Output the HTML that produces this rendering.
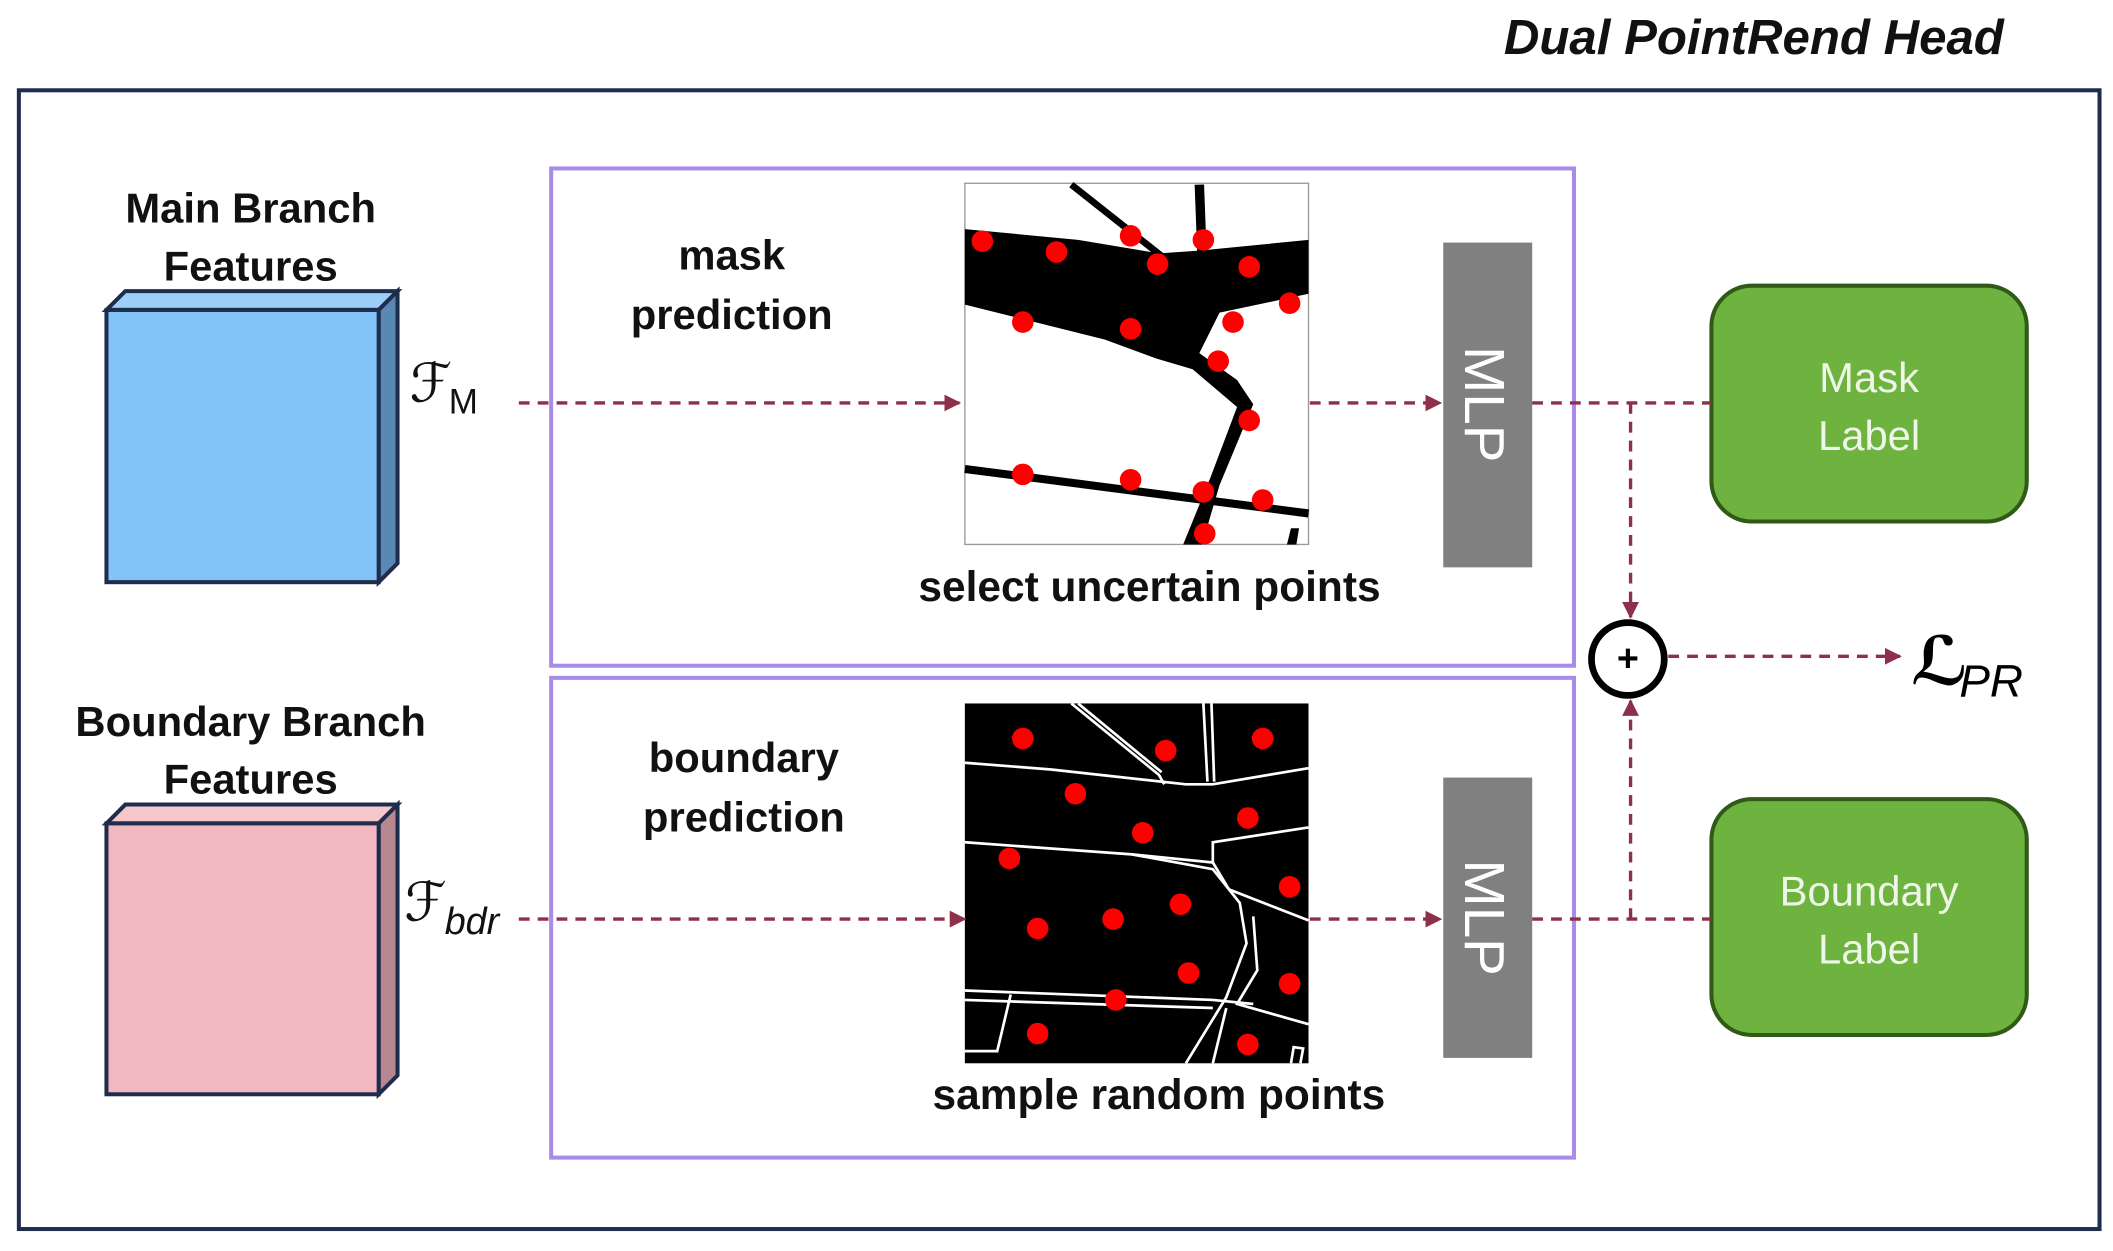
<!DOCTYPE html>
<html><head><meta charset="utf-8"><style>
html,body{margin:0;padding:0;background:#fff;}
svg{display:block;}
text{font-family:"Liberation Sans","DejaVu Sans",sans-serif;}
</style></head><body>
<svg width="2113" height="1251" viewBox="0 0 1568 928.3" preserveAspectRatio="none" xmlns="http://www.w3.org/2000/svg">
<defs>
<marker id="ah" viewBox="0 0 10 10" refX="9" refY="5" markerWidth="5" markerHeight="5" orient="auto"><path d="M0,0 L10,5 L0,10 z" fill="#8e2f4c"/></marker>
</defs>
<text x="1487" y="40" text-anchor="end" font-size="36.5" font-weight="bold" font-style="italic" fill="#111">Dual PointRend Head</text>
<rect x="14" y="67" width="1544" height="845" fill="none" stroke="#1f2d4d" stroke-width="3"/>

<text x="186" y="165" text-anchor="middle" font-size="31" font-weight="bold" fill="#111">Main Branch</text>
<text x="186" y="208" text-anchor="middle" font-size="31" font-weight="bold" fill="#111">Features</text>
<polygon points="79,230 93,216 295,216 281,230" fill="#9ccffa" stroke="#1f2d4d" stroke-width="3"/>
<polygon points="281,230 295,216 295,418 281,432" fill="#5a88b4" stroke="#1f2d4d" stroke-width="3"/>
<rect x="79" y="230" width="202" height="202" fill="#82c4f8" stroke="#1f2d4d" stroke-width="3"/>

<text x="186" y="546" text-anchor="middle" font-size="31" font-weight="bold" fill="#111">Boundary Branch</text>
<text x="186" y="589" text-anchor="middle" font-size="31" font-weight="bold" fill="#111">Features</text>
<polygon points="79,611 93,597 295,597 281,611" fill="#f6c8ce" stroke="#1f2d4d" stroke-width="3"/>
<polygon points="281,611 295,597 295,798 281,812" fill="#b88890" stroke="#1f2d4d" stroke-width="3"/>
<rect x="79" y="611" width="202" height="201" fill="#f2b8c0" stroke="#1f2d4d" stroke-width="3"/>

<text x="304" y="298" font-family="Liberation Serif,serif" font-style="italic" font-size="40" fill="#111">ℱ</text>
<text x="333" y="307" font-family="Liberation Serif,serif" font-size="26" fill="#111">M</text>
<text x="300" y="683" font-family="Liberation Serif,serif" font-style="italic" font-size="40" fill="#111">ℱ</text>
<text x="330" y="693" font-family="Liberation Serif,serif" font-style="italic" font-size="28" fill="#111">bdr</text>

<rect x="409" y="125" width="759" height="369" fill="none" stroke="#a98be8" stroke-width="3"/>
<rect x="409" y="503" width="759" height="356" fill="none" stroke="#a98be8" stroke-width="3"/>
<text x="543" y="200" text-anchor="middle" font-size="31" font-weight="bold" fill="#111">mask</text>
<text x="543" y="244" text-anchor="middle" font-size="31" font-weight="bold" fill="#111">prediction</text>
<text x="552" y="573" text-anchor="middle" font-size="31" font-weight="bold" fill="#111">boundary</text>
<text x="552" y="617" text-anchor="middle" font-size="31" font-weight="bold" fill="#111">prediction</text>
<text x="853" y="446" text-anchor="middle" font-size="31.5" font-weight="bold" fill="#111">select uncertain points</text>
<text x="860" y="823" text-anchor="middle" font-size="31.5" font-weight="bold" fill="#111">sample random points</text>

<g>
<rect x="716" y="136" width="255" height="268" fill="#fff" stroke="#999" stroke-width="1"/>
<polygon points="716,170 800,178 860,188 890,186 971,178 971,218 905,232 890,262 918,282 930,300 905,360 892,404 878,404 898,355 918,302 885,274 858,266 820,252 716,226" fill="#000"/>
<line x1="795" y1="137" x2="862" y2="190" stroke="#000" stroke-width="5"/>
<line x1="890" y1="137" x2="892" y2="190" stroke="#000" stroke-width="7"/>
<line x1="716" y1="348" x2="971" y2="381" stroke="#000" stroke-width="6"/>
<path d="M955,404 L958,392 L964,392 L962,404 z" fill="#000"/>
<g fill="#f00">
<circle cx="729" cy="179" r="8"/><circle cx="784" cy="187" r="8"/><circle cx="839" cy="175" r="8"/><circle cx="859" cy="196" r="8"/><circle cx="893" cy="178" r="8"/><circle cx="927" cy="198" r="8"/><circle cx="957" cy="225" r="8"/><circle cx="915" cy="239" r="8"/><circle cx="759" cy="239" r="8"/><circle cx="839" cy="244" r="8"/><circle cx="904" cy="268" r="8"/><circle cx="927" cy="312" r="8"/><circle cx="759" cy="352" r="8"/><circle cx="839" cy="356" r="8"/><circle cx="893" cy="365" r="8"/><circle cx="937" cy="371" r="8"/><circle cx="894" cy="396" r="8"/>
</g>
</g>

<g>
<rect x="716" y="522" width="255" height="267" fill="#000"/>
<g fill="none" stroke="#fff" stroke-width="2">
<path d="M716,566 L780,571 L880,582 L900,582 L971,570"/>
<path d="M795,522 L860,575 L864,582"/>
<path d="M800,522 L862,573"/>
<path d="M893,522 L896,580"/>
<path d="M899,522 L901,580"/>
<path d="M716,625 L840,634 L900,640 L900,625 L971,614"/>
<path d="M900,640 L912,660 L971,683"/>
<path d="M840,634 L900,645 L920,670 L925,700 L910,740 L880,789"/>
<path d="M930,680 L933,720 L918,745 L971,760"/>
<path d="M716,735 L900,742 L930,745"/>
<path d="M716,742 L900,748"/>
<path d="M750,738 L740,780 L716,780"/>
<path d="M910,748 L900,789"/>
<path d="M958,789 L960,777 L967,778 L965,789"/>
</g>
<g fill="#f00">
<circle cx="759" cy="548" r="8"/><circle cx="865" cy="557" r="8"/><circle cx="937" cy="548" r="8"/><circle cx="798" cy="589" r="8"/><circle cx="848" cy="618" r="8"/><circle cx="926" cy="607" r="8"/><circle cx="749" cy="637" r="8"/><circle cx="957" cy="658" r="8"/><circle cx="876" cy="671" r="8"/><circle cx="770" cy="689" r="8"/><circle cx="826" cy="682" r="8"/><circle cx="882" cy="722" r="8"/><circle cx="957" cy="730" r="8"/><circle cx="828" cy="742" r="8"/><circle cx="770" cy="767" r="8"/><circle cx="926" cy="775" r="8"/>
</g>
</g>

<rect x="1071" y="180" width="66" height="241" fill="#808080"/>
<rect x="1071" y="577" width="66" height="208" fill="#808080"/>
<text transform="translate(1087,300) rotate(90)" text-anchor="middle" font-size="42" fill="#fff">MLP</text>
<text transform="translate(1087,681) rotate(90)" text-anchor="middle" font-size="42" fill="#fff">MLP</text>

<rect x="1270" y="212" width="234" height="175" rx="30" fill="#6eb23f" stroke="#2f5a17" stroke-width="3"/>
<rect x="1270" y="593" width="234" height="175" rx="30" fill="#6eb23f" stroke="#2f5a17" stroke-width="3"/>
<text x="1387" y="291" text-anchor="middle" font-size="31" fill="#eef6e8">Mask</text>
<text x="1387" y="334" text-anchor="middle" font-size="31" fill="#eef6e8">Label</text>
<text x="1387" y="672" text-anchor="middle" font-size="31" fill="#eef6e8">Boundary</text>
<text x="1387" y="715" text-anchor="middle" font-size="31" fill="#eef6e8">Label</text>

<g stroke="#8e2f4c" stroke-width="2.5" stroke-dasharray="8,6" fill="none">
<line x1="385" y1="299" x2="712" y2="299" marker-end="url(#ah)"/>
<line x1="972" y1="299" x2="1069" y2="299" marker-end="url(#ah)"/>
<line x1="1137" y1="299" x2="1270" y2="299"/>
<line x1="1210" y1="299" x2="1210" y2="458" marker-end="url(#ah)"/>
<line x1="385" y1="682" x2="716" y2="682" marker-end="url(#ah)"/>
<line x1="972" y1="682" x2="1069" y2="682" marker-end="url(#ah)"/>
<line x1="1137" y1="682" x2="1270" y2="682"/>
<line x1="1210" y1="682" x2="1210" y2="520" marker-end="url(#ah)"/>
<line x1="1238" y1="487" x2="1410" y2="487" marker-end="url(#ah)"/>
</g>
<circle cx="1208" cy="489" r="27" fill="#fff" stroke="#000" stroke-width="5"/>
<text x="1208" y="498" text-anchor="middle" font-size="28" font-weight="bold" fill="#000">+</text>

<text x="1418" y="508" font-family="Liberation Serif,serif" font-style="italic" font-weight="bold" font-size="50" fill="#000">ℒ</text>
<text x="1454" y="517" font-family="Liberation Serif,serif" font-style="italic" font-size="34" fill="#000">PR</text>
</svg>
</body></html>
